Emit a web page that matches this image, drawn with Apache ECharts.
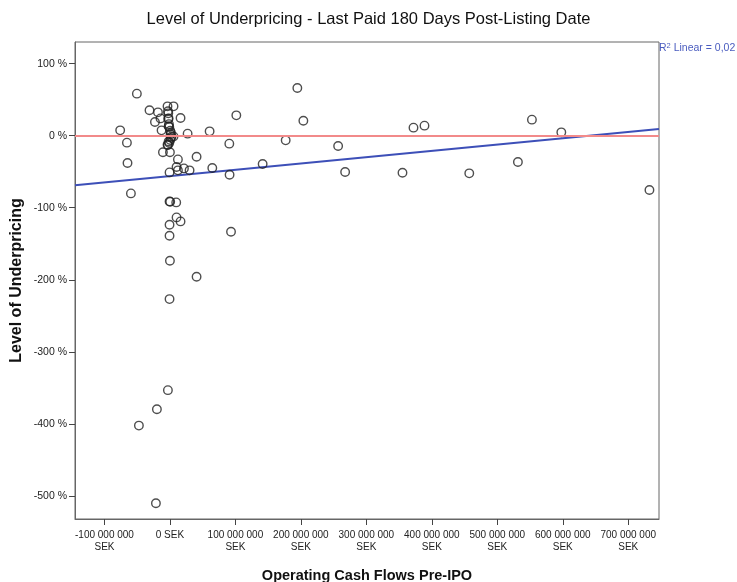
<!DOCTYPE html>
<html>
<head>
<meta charset="utf-8">
<script src="https://cdn.jsdelivr.net/npm/echarts@6/dist/echarts.min.js"></script>
<style>
  html, body { margin: 0; padding: 0; background: #fff; }
  #main { width: 737px; height: 582px; }
</style>
</head>
<body>
<div id="main"></div>
<script>
// operating cash flow pre-IPO, in millions of SEK
const opCashFlow = [
  -50.5, -31.2, -18.3, -3.7, 5.5, -3, -14.4, -22.9, -2.6, 16.2,
  101.4, -76, -12.8, -2, 27, 60.6, -65.7, 90.7, -3.7, -10.7,
  0, -64.8, 12.2, 40.7, -0.6, 10.1, 12.2, 21.4, 30, 64.7,
  91.1, -59.6, -0.6, 0.4, 9.6, 10.1, 16.2, -0.6, -0.6, 93.3,
  0, 40.7, -0.6, -3.1, -19.9, -47.4, -21.4, 141.6, 176.8, 194.6,
  203.8, 256.9, 267.6, 372, 388.8, 552.9, 597.8, 355.2, 457.2, 531.5,
  732.4,
  // the tight bunch around 0 SEK / 0 %
  -2.5, -2, -1.5, -1, 0.5, 1.5, 1, 2.5, 1.5, 0.5, -1, -3, -2, 5.5
];
// level of underpricing, in percent
const underpricing = [
  58.3, 35.2, 32.4, 40.7, 40.7, 33.8, 24, 19, 23.6, 24.5,
  28.2, 7.4, 7.4, 13, 2.8, 6, -9.7, -11.1, -12.5, -23.1,
  -23.1, -38, -32.9, -29.2, -51, -43.5, -48.1, -45.4, -48.1, -44.9,
  -54.2, -80.1, -91.2, -91.8, -92.6, -113.4, -119, -123.6, -138.9, -133.3,
  -173.6, -195.8, -226.8, -353.2, -379.6, -402.4, -510.2, -39.4, -6.5, 66.2,
  20.8, -14.3, -50.5, 11.1, 13.9, 22.2, 4.6, -51.4, -52.3, -36.6,
  -75.5,
  31, 24, 16, 12, 7, 4, 2, -1, -3, -6, -10, -13, -8, -1
];

const xTicks = [-100, 0, 100, 200, 300, 400, 500, 600, 700];
const yTicks = [-500, -400, -300, -200, -100, 0, 100];

// linear fit shown in the chart (percent vs. M SEK)
const fitIntercept = -56.1;
const fitSlope = 0.0875;
const rSquared = '0,02';

const xMin = -145, xMax = 747;
const yMin = -532, yMax = 130;

const points = opCashFlow.map((x, i) => [x, underpricing[i]]);
const fitLine = [xMin, xMax].map(x => [x, fitIntercept + fitSlope * x]);

function sek(v) {
  if (v === 0) return '0 SEK';
  const n = Math.abs(v * 1000000).toString().replace(/\B(?=(\d{3})+(?!\d))/g, ' ');
  return (v < 0 ? '-' : '') + n + '\nSEK';
}

const font = 'Liberation Sans, Arial, sans-serif';
let myChart = echarts.init(document.getElementById('main'));
let option = {
  backgroundColor: '#fff',
  animation: false,
  title: {
    text: 'Level of Underpricing - Last Paid 180 Days Post-Listing Date',
    left: 'center',
    top: 6,
    textStyle: { fontFamily: font, fontSize: 16.5, fontWeight: 'normal', color: '#111' }
  },
  graphic: [{
    type: 'text',
    left: 659,
    top: 42,
    style: {
      text: '{n|R}{s|2}{n| Linear = ' + rSquared + '}',
      rich: {
        n: { fontFamily: font, fontSize: 10.5, fill: '#4a5cbf', verticalAlign: 'bottom' },
        s: { fontFamily: font, fontSize: 7.5, fill: '#4a5cbf', verticalAlign: 'top', padding: [0, 0, 4, 0] }
      }
    }
  }],
  grid: {
    left: 75, right: 78, top: 42, bottom: 63,
    outerBoundsMode: 'none',
    containLabel: false,
    show: true, borderColor: '#666', borderWidth: 1, backgroundColor: '#fff'
  },
  xAxis: {
    type: 'value',
    min: xMin, max: xMax,
    name: 'Operating Cash Flows Pre-IPO',
    nameLocation: 'middle',
    nameGap: 49,
    nameMoveOverlap: false,
    nameTextStyle: { fontFamily: font, fontSize: 14.5, fontWeight: 'bold', color: '#111' },
    axisLine: { show: true, onZero: false, lineStyle: { color: '#666' } },
    axisTick: { show: true, length: 6, customValues: xTicks, lineStyle: { color: '#444' } },
    axisLabel: {
      customValues: xTicks,
      formatter: sek,
      fontFamily: font, fontSize: 10, color: '#222', lineHeight: 12, margin: 10
    },
    splitLine: { show: false }
  },
  yAxis: {
    type: 'value',
    min: yMin, max: yMax,
    name: 'Level of Underpricing',
    nameLocation: 'middle',
    nameGap: 50,
    nameMoveOverlap: false,
    nameTextStyle: { fontFamily: font, fontSize: 16, fontWeight: 'bold', color: '#111' },
    axisLine: { show: true, onZero: false, lineStyle: { color: '#666' } },
    axisTick: { show: true, length: 6, customValues: yTicks, lineStyle: { color: '#444' } },
    axisLabel: {
      customValues: yTicks,
      formatter: '{value} %',
      fontFamily: font, fontSize: 10.5, color: '#222', margin: 8
    },
    splitLine: { show: false }
  },
  series: [
    {
      type: 'scatter',
      data: points,
      symbol: 'circle',
      symbolSize: 8.5,
      itemStyle: { color: 'rgba(255,255,255,0)', borderColor: '#222', borderWidth: 1.4 },
      markLine: {
        silent: true,
        symbol: 'none',
        label: { show: false },
        lineStyle: { color: '#f28a8a', width: 2, type: 'solid' },
        data: [{ yAxis: 0 }]
      },
      z: 3
    },
    {
      type: 'line',
      data: fitLine,
      symbol: 'none',
      lineStyle: { color: '#3d4fb8', width: 2 },
      z: 2
    }
  ]
};
myChart.setOption(option);
</script>
</body>
</html>
